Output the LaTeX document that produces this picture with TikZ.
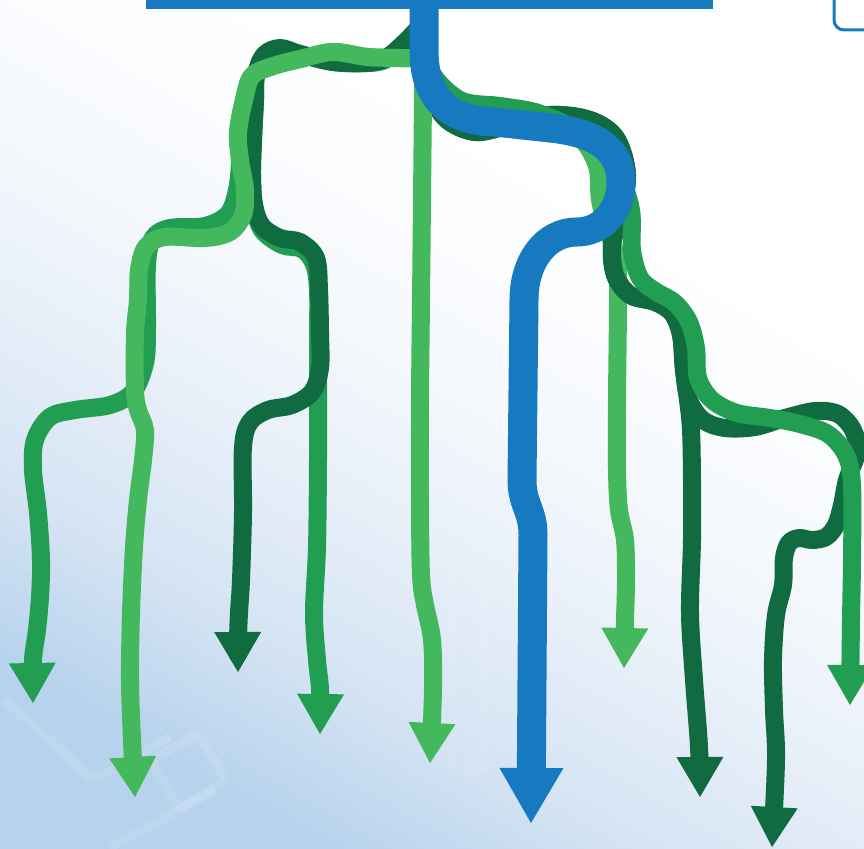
\documentclass[tikz,border=0pt]{standalone}
\usepackage{xcolor}
\usepackage{tikz}
\usetikzlibrary{
  arrows.meta
}
\definecolor{trunkblue}{RGB}{23,122,192}
\definecolor{leafgreen}{RGB}{68,184,93}
\definecolor{midgreen}{RGB}{33,158,82}
\definecolor{deepgreen}{RGB}{16,108,64}
\definecolor{bgbottom}{RGB}{182,210,237}
\definecolor{bglow}{RGB}{212,227,243}
\definecolor{bgsoft}{RGB}{228,237,248}
\definecolor{bgmid}{RGB}{242,246,251}
\definecolor{bgpale}{RGB}{249,251,254}
\pgfdeclareverticalshading{skyfade}{100bp}{color(0bp)=(bgbottom); color(25bp)=(bgbottom); color(34bp)=(bglow); color(42bp)=(bgsoft); color(50bp)=(bgmid); color(58bp)=(bgpale); color(66bp)=(white); color(100bp)=(white)}
\tikzset{
  branchline/.style={
    line width=18pt, line join=round,
    -{Triangle[length=40pt, width=47pt, line width=0pt]}
  },
  leafline/.style={branchline, draw=leafgreen},
  midline/.style={branchline, draw=midgreen},
  deepline/.style={branchline, draw=deepgreen},
  trunkline/.style={
    line width=29pt, draw=trunkblue,
    -{Triangle[length=55pt, width=64pt, line width=0pt]}
  },
  faintshape/.style={draw=white, opacity=0.12, line width=9pt, rounded corners=6pt},
  wave/.style={smooth, tension=0.55}
}

\begin{document}
\begin{tikzpicture}[x=1pt, y=-1pt]

    \useasboundingbox (0,0) rectangle (864,848);
    \clip (0,0) rectangle (864,848);
    \shade[shading=skyfade, shading angle=-30] (0,0) rectangle (864,848);

    \draw[faintshape] (5,700) -- (93,780) -- (170,737);
    \draw[faintshape, rotate around={30:(185,770)}] (160,745) rectangle (215,800);
    \draw[faintshape] (110,848) -- (215,790);
    \draw[faintshape, opacity=0.07] (452,570) rectangle (484,770);

    \draw[trunkblue, line width=3pt, rounded corners=10pt] (834,-20) rectangle (900,30);

    % left cluster
    \draw[midline] plot[wave] coordinates {(424,40) (405,46) (385,60) (367,63) (333,62) (300,54) (280,50) (264,56) (256,75) (255,100) (253,140) (252,175) (254,205) (262,230) (282,245) (302,249) (314,264) (318,290) (318,340) (318,400) (318,460) (317,547) (314,613) (317,660) (320,690) (320,734)};
    \draw[midline] plot[wave] coordinates {(424,58) (400,58) (367,57) (333,52) (300,59) (273,66) (252,76) (244,100) (238,133) (240,160) (237,190) (228,214) (205,226) (170,228) (153,238) (147,265) (147,330) (145,363) (133,392) (110,405) (75,410) (50,417) (35,440) (33,470) (38,513) (41,560) (40,597) (37,630) (33,660) (33,703)};
    \draw[deepline] plot[wave] coordinates {(424,22) (405,42) (386,58) (367,63) (333,62) (300,54) (280,48) (264,55) (256,75) (255,100) (253,140) (252,175) (254,205) (262,226) (280,238) (300,242) (316,258) (319,290) (320,333) (320,368) (312,392) (292,405) (268,410) (250,422) (243,447) (243,513) (241,580) (239,613) (238,640) (238,672)};
    \draw[leafline] plot[wave] coordinates {(424,58) (400,58) (367,57) (333,52) (300,59) (273,66) (252,76) (244,100) (238,133) (240,160) (245,190) (243,215) (230,232) (205,238) (165,237) (146,247) (139,270) (138,300) (135,333) (135,390) (138,410) (145,430) (143,460) (138,500) (134,547) (131,613) (130,680) (132,740) (135,797)};

    % right cluster
    \draw[leafline] plot[wave] coordinates {(424,50) (432,85) (452,110) (490,121) (550,128) (580,138) (597,166) (600,200) (608,230) (617,262) (618,300) (617,400) (617,470) (619,510) (625,540) (626,580) (625,620) (624,668)};
    \draw[deepline] plot[wave] coordinates {(424,40) (428,85) (445,118) (475,132) (510,125) (550,115) (590,120) (616,138) (627,175) (620,215) (612,245) (615,275) (630,295) (655,302) (672,313) (681,335) (684,370) (689,400) (703,420) (725,428) (755,427) (785,418) (815,411) (838,414) (853,430) (857,452) (847,480) (842,505) (836,525) (826,537) (812,540) (799,538) (789,543) (784,558) (783,585) (776,615) (773,660) (774,710) (776,760) (772,847)};
    \draw[deepline] plot[wave] coordinates {(424,40) (428,85) (445,118) (475,132) (510,125) (550,115) (590,120) (616,138) (627,175) (620,215) (612,245) (615,275) (630,295) (655,302) (672,313) (681,335) (684,370) (688,400) (691,430) (692,480) (692,540) (690,613) (694,680) (699,747) (700,797)};
    \draw[midline] plot[wave] coordinates {(424,30) (430,70) (460,100) (500,106) (535,112) (570,126) (600,142) (618,170) (631,210) (632,250) (640,278) (655,291) (675,303) (689,322) (696,348) (698,378) (712,400) (737,413) (770,418) (800,424) (828,434) (846,455) (852,485) (852,560) (851,620) (850,705)};

    \draw[leafline] plot[wave] coordinates {(424,40) (423,100) (422,200) (421,300) (420,400) (420,500) (421,575) (425,605) (432,640) (433,690) (430,763)};

    % trunk
    \fill[trunkblue] (146,0) rectangle (713,9);
    \draw[trunkline] (424,-5) -- (424,50) .. controls (424,100) and (450,121) .. (495,122) -- (550,128) .. controls (600,133) and (621,152) .. (621,182) .. controls (621,213) and (600,232) .. (577,232) .. controls (545,232) and (524,262) .. (524,300) -- (522,480) .. controls (522,505) and (533,510) .. (533,535) -- (531,823);

\end{tikzpicture}
\end{document}
